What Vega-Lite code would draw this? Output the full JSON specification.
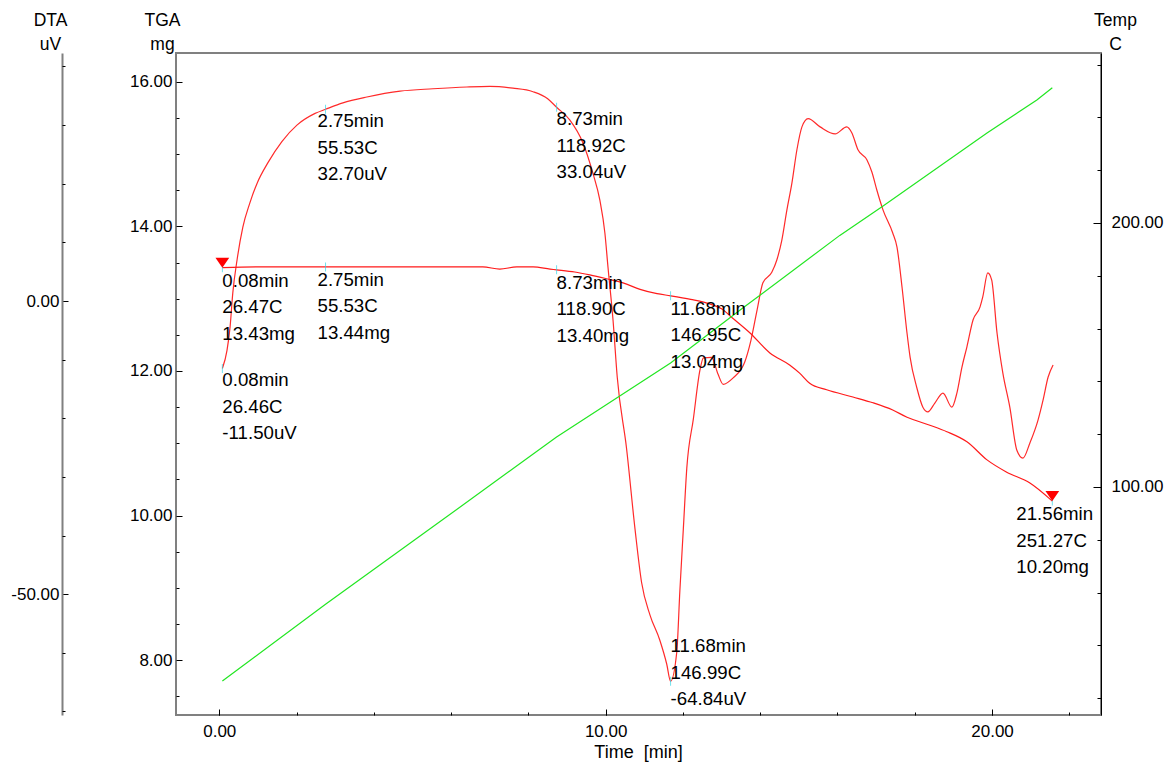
{
  "$schema": "https://vega.github.io/schema/vega-lite/v6.json",
  "width": 925,
  "height": 662,
  "autosize": {"type": "none"},
  "padding": {"left": 176, "top": 53, "right": 69, "bottom": 47},
  "background": "white",
  "config": {
    "font": "Liberation Sans",
    "view": {"stroke": "#808080", "strokeWidth": 2},
    "axis": {
      "labelFont": "Liberation Sans", "labelFontSize": 17, "labelColor": "black",
      "tickColor": "black", "domainColor": "#808080", "grid": false,
      "labelFlush": false, "labelOverlap": false,
      "titleFont": "Liberation Sans", "titleFontSize": 17.5, "titleFontWeight": "normal",
      "titleColor": "black", "titleAngle": 0, "titleBaseline": "alphabetic",
      "titleAlign": "center", "titleLineHeight": 24
    }
  },
  "datasets": {
    "dta": [
      {"t":0.08,"v":-11.5},{"t":0.2,"v":-8.4},{"t":0.28,"v":-4.4},{"t":0.35,"v":1.4},{"t":0.46,"v":7.0},
      {"t":0.61,"v":12.6},{"t":0.79,"v":16.7},{"t":0.98,"v":20.1},{"t":1.26,"v":23.6},{"t":1.62,"v":27.2},
      {"t":2.01,"v":30.0},{"t":2.48,"v":32.0},{"t":2.75,"v":32.7},{"t":3.2,"v":33.8},{"t":3.82,"v":34.8},
      {"t":4.68,"v":35.8},{"t":5.53,"v":36.2},{"t":6.41,"v":36.5},{"t":7.0,"v":36.6},{"t":7.6,"v":36.3},
      {"t":8.12,"v":35.7},{"t":8.5,"v":34.5},{"t":8.73,"v":33.04},{"t":9.07,"v":30.9},{"t":9.41,"v":27.0},
      {"t":9.67,"v":21.8},{"t":9.85,"v":17.2},{"t":9.98,"v":11.6},{"t":10.06,"v":5.8},{"t":10.19,"v":-3.2},
      {"t":10.3,"v":-13.0},{"t":10.54,"v":-25.1},{"t":10.76,"v":-38.9},{"t":10.93,"v":-48.0},{"t":11.15,"v":-53.6},
      {"t":11.4,"v":-57.8},{"t":11.58,"v":-61.9},{"t":11.68,"v":-64.84},{"t":11.84,"v":-59.9},{"t":11.92,"v":-49.5},
      {"t":12.01,"v":-38.9},{"t":12.1,"v":-28.5},{"t":12.27,"v":-20.1},{"t":12.44,"v":-11.8},{"t":12.53,"v":-9.7},
      {"t":12.74,"v":-9.6},{"t":12.91,"v":-12.5},{"t":13.04,"v":-14.2},{"t":13.3,"v":-13.1},{"t":13.6,"v":-10.4},
      {"t":13.76,"v":-6.7},{"t":13.92,"v":-1.5},{"t":14.07,"v":3.1},{"t":14.3,"v":4.9},{"t":14.43,"v":7.0},
      {"t":14.56,"v":10.4},{"t":14.69,"v":15.5},{"t":14.82,"v":20.1},{"t":14.95,"v":25.8},{"t":15.08,"v":29.7},
      {"t":15.24,"v":31.1},{"t":15.55,"v":29.7},{"t":15.94,"v":28.5},{"t":16.24,"v":29.7},{"t":16.37,"v":28.7},
      {"t":16.53,"v":25.8},{"t":16.76,"v":24.1},{"t":16.89,"v":22.0},{"t":17.02,"v":18.9},{"t":17.18,"v":15.5},
      {"t":17.43,"v":11.6},{"t":17.54,"v":9.2},{"t":17.67,"v":2.4},{"t":17.8,"v":-5.5},{"t":17.88,"v":-9.6},
      {"t":18.05,"v":-14.7},{"t":18.21,"v":-18.1},{"t":18.34,"v":-18.9},{"t":18.52,"v":-17.4},{"t":18.73,"v":-15.7},
      {"t":18.96,"v":-18.1},{"t":19.09,"v":-15.7},{"t":19.22,"v":-11.3},{"t":19.35,"v":-7.8},{"t":19.51,"v":-3.2},
      {"t":19.69,"v":-1.0},{"t":19.76,"v":0.7},{"t":19.89,"v":4.8},{"t":19.99,"v":3.6},{"t":20.13,"v":-5.5},
      {"t":20.28,"v":-12.3},{"t":20.46,"v":-18.1},{"t":20.64,"v":-25.4},{"t":20.8,"v":-26.8},{"t":20.98,"v":-24.2},
      {"t":21.19,"v":-20.3},{"t":21.32,"v":-16.9},{"t":21.45,"v":-13.0},{"t":21.58,"v":-10.9}
    ],
    "tga": [
      {"t":0.08,"m":13.43},{"t":1.0,"m":13.44},{"t":2.09,"m":13.44},{"t":2.75,"m":13.44},{"t":4.68,"m":13.44},
      {"t":6.82,"m":13.44},{"t":7.26,"m":13.41},{"t":7.7,"m":13.44},{"t":8.12,"m":13.44},{"t":8.56,"m":13.41},
      {"t":8.73,"m":13.4},{"t":9.2,"m":13.37},{"t":9.59,"m":13.33},{"t":10.0,"m":13.28},{"t":10.45,"m":13.22},
      {"t":10.89,"m":13.13},{"t":11.33,"m":13.07},{"t":11.68,"m":13.04},{"t":12.2,"m":12.99},{"t":12.62,"m":12.94},
      {"t":13.0,"m":12.86},{"t":13.29,"m":12.73},{"t":13.73,"m":12.53},{"t":14.25,"m":12.25},{"t":14.77,"m":12.08},
      {"t":15.02,"m":11.97},{"t":15.28,"m":11.83},{"t":15.72,"m":11.74},{"t":16.4,"m":11.64},{"t":16.92,"m":11.56},
      {"t":17.43,"m":11.46},{"t":17.8,"m":11.36},{"t":18.39,"m":11.25},{"t":18.83,"m":11.16},{"t":19.35,"m":11.02},
      {"t":19.87,"m":10.77},{"t":20.38,"m":10.6},{"t":20.98,"m":10.45},{"t":21.56,"m":10.2}
    ],
    "temp": [
      {"t":0.08,"T":26.47},{"t":2.75,"T":55.53},{"t":5.5,"T":84.6},{"t":8.73,"T":118.92},
      {"t":11.68,"T":146.95},{"t":13.48,"T":167.0},{"t":16.06,"T":195.3},{"t":17.18,"T":206.4},{"t":19.87,"T":234.1},
      {"t":21.16,"T":246.6},{"t":21.56,"T":251.27}
    ],
    "ann": [
      {"series":"TGA","t":0.08,"v":13.43,"label":"0.08min\n26.47C\n13.43mg"},
      {"series":"TGA","t":2.75,"v":13.44,"label":"2.75min\n55.53C\n13.44mg"},
      {"series":"TGA","t":8.73,"v":13.40,"label":"8.73min\n118.90C\n13.40mg"},
      {"series":"TGA","t":11.68,"v":13.04,"label":"11.68min\n146.95C\n13.04mg"},
      {"series":"TGA","t":21.56,"v":10.20,"label":"21.56min\n251.27C\n10.20mg"},
      {"series":"DTA","t":0.08,"v":-11.50,"label":"0.08min\n26.46C\n-11.50uV"},
      {"series":"DTA","t":2.75,"v":32.70,"label":"2.75min\n55.53C\n32.70uV"},
      {"series":"DTA","t":8.73,"v":33.04,"label":"8.73min\n118.92C\n33.04uV"},
      {"series":"DTA","t":11.68,"v":-64.84,"label":"11.68min\n146.99C\n-64.84uV"}
    ]
  },
  "resolve": {"scale": {"x": "independent", "y": "independent"}},
  "layer": [
    {
      "data": {"name": "dta"},
      "mark": {"type": "line", "color": "#ff2a2a", "strokeWidth": 1.2, "interpolate": "monotone"},
      "encoding": {
        "x": {"field": "t", "type": "quantitative", "scale": {"domain": [-1.12, 22.82], "nice": false, "zero": false},
              "axis": {"orient": "bottom", "values": [0, 10, 20], "format": ".2f", "tickSize": -6, "labelPadding": 14,
                       "labelBaseline": "top", "domain": false, "title": "Time \u00a0[min]", "titleFontSize": 18, "titleX": 462, "titleY": 42}},
        "y": {"field": "v", "type": "quantitative", "scale": {"domain": [-70.6, 42.3], "nice": false, "zero": false},
              "axis": {"orient": "left", "offset": 114, "values": [-50, 0], "format": ".2f",
                       "labelExpr": "replace(datum.label, '\u2212', '-')", "tickSize": -6, "labelPadding": 9,
                       "domainColor": "#808080", "domainWidth": 2, "title": ["DTA", "uV"], "titleX": -12, "titleY": -28}}
      }
    },
    {
      "data": {"name": "tga"},
      "mark": {"type": "line", "color": "#ff1a1a", "strokeWidth": 1.2, "interpolate": "monotone"},
      "encoding": {
        "x": {"field": "t", "type": "quantitative", "scale": {"domain": [-1.12, 22.82], "nice": false, "zero": false},
              "axis": {"orient": "bottom", "values": [0, 2, 4, 6, 8, 10, 12, 14, 16, 18, 20, 22], "labels": false, "domain": false, "tickSize": -3, "title": null}},
        "y": {"field": "m", "type": "quantitative", "scale": {"domain": [7.24, 16.4], "nice": false, "zero": false},
              "axis": {"orient": "left", "values": [8, 10, 12, 14, 16], "format": ".2f", "tickSize": -6, "labelPadding": 10,
                       "domain": false, "title": ["TGA", "mg"], "titleX": -14, "titleY": -28}}
      }
    },
    {
      "data": {"name": "temp"},
      "mark": {"type": "line", "color": "#22e622", "strokeWidth": 1.2},
      "encoding": {
        "x": {"field": "t", "type": "quantitative", "scale": {"domain": [-1.12, 22.82], "nice": false, "zero": false}, "axis": null},
        "y": {"field": "T", "type": "quantitative", "scale": {"domain": [13.6, 264.4], "nice": false, "zero": false},
              "axis": {"orient": "right", "values": [100, 200], "format": ".2f", "tickSize": -8, "labelPadding": 18,
                       "domainColor": "black", "domainWidth": 1, "title": ["Temp", "C"], "titleX": 14, "titleY": -28}}
      }
    },
    {
      "data": {"name": "dta"},
      "mark": {"type": "line", "strokeOpacity": 0},
      "encoding": {
        "x": {"field": "t", "type": "quantitative", "scale": {"domain": [-1.12, 22.82], "nice": false, "zero": false}, "axis": null},
        "y": {"field": "v", "type": "quantitative", "scale": {"domain": [-70.6, 42.3], "nice": false, "zero": false},
              "axis": {"orient": "left", "offset": 114, "values": [-70, -60, -40, -30, -20, -10, 10, 20, 30, 40], "labels": false, "domain": false, "tickSize": -3, "title": null}}
      }
    },
    {
      "data": {"name": "tga"},
      "mark": {"type": "line", "strokeOpacity": 0},
      "encoding": {
        "x": {"field": "t", "type": "quantitative", "scale": {"domain": [-1.12, 22.82], "nice": false, "zero": false}, "axis": null},
        "y": {"field": "m", "type": "quantitative", "scale": {"domain": [7.24, 16.4], "nice": false, "zero": false},
              "axis": {"orient": "left", "values": [7.5, 8.5, 9, 9.5, 10.5, 11, 11.5, 12.5, 13, 13.5, 14.5, 15, 15.5], "labels": false, "domain": false, "tickSize": -3, "title": null}}
      }
    },
    {
      "data": {"name": "temp"},
      "mark": {"type": "line", "strokeOpacity": 0},
      "encoding": {
        "x": {"field": "t", "type": "quantitative", "scale": {"domain": [-1.12, 22.82], "nice": false, "zero": false}, "axis": null},
        "y": {"field": "T", "type": "quantitative", "scale": {"domain": [13.6, 264.4], "nice": false, "zero": false},
              "axis": {"orient": "right", "values": [20, 40, 60, 80, 120, 140, 160, 180, 220, 240, 260], "labels": false, "domain": false, "tickSize": -4, "title": null}}
      }
    },
    {
      "data": {"name": "ann"},
      "transform": [{"filter": "datum.series == 'DTA'"}],
      "mark": {"type": "tick", "orient": "vertical", "color": "#33d6e6", "size": 9, "thickness": 1},
      "encoding": {
        "x": {"field": "t", "type": "quantitative", "scale": {"domain": [-1.12, 22.82], "nice": false, "zero": false}, "axis": null},
        "y": {"field": "v", "type": "quantitative", "scale": {"domain": [-70.6, 42.3], "nice": false, "zero": false}, "axis": null}
      }
    },
    {
      "data": {"name": "ann"},
      "transform": [{"filter": "datum.series == 'TGA'"}],
      "mark": {"type": "tick", "orient": "vertical", "color": "#33d6e6", "size": 9, "thickness": 1},
      "encoding": {
        "x": {"field": "t", "type": "quantitative", "scale": {"domain": [-1.12, 22.82], "nice": false, "zero": false}, "axis": null},
        "y": {"field": "v", "type": "quantitative", "scale": {"domain": [7.24, 16.4], "nice": false, "zero": false}, "axis": null}
      }
    },
    {
      "data": {"name": "ann"},
      "transform": [{"filter": "datum.series == 'TGA' && (datum.t < 1 || datum.t > 21)"}],
      "mark": {"type": "point", "shape": "M-1,-1.45L1,-1.45L0,0Z", "filled": true, "color": "#ff0000", "opacity": 1, "size": 190, "strokeWidth": 0},
      "encoding": {
        "x": {"field": "t", "type": "quantitative", "scale": {"domain": [-1.12, 22.82], "nice": false, "zero": false}, "axis": null},
        "y": {"field": "v", "type": "quantitative", "scale": {"domain": [7.24, 16.4], "nice": false, "zero": false}, "axis": null}
      }
    },
    {
      "data": {"name": "ann"},
      "transform": [{"filter": "datum.series == 'DTA'"}],
      "mark": {"type": "text", "align": "left", "baseline": "top", "font": "Liberation Sans", "fontSize": 18.67, "lineHeight": 26.5,
               "lineBreak": "\n", "color": "black",
               "dx": {"expr": "datum.t == 2.75 ? -8 : 0"},
               "dy": {"expr": "datum.v < -60 ? -44 : 3"}},
      "encoding": {
        "x": {"field": "t", "type": "quantitative", "scale": {"domain": [-1.12, 22.82], "nice": false, "zero": false}, "axis": null},
        "y": {"field": "v", "type": "quantitative", "scale": {"domain": [-70.6, 42.3], "nice": false, "zero": false}, "axis": null},
        "text": {"field": "label", "type": "nominal"}
      }
    },
    {
      "data": {"name": "ann"},
      "transform": [{"filter": "datum.series == 'TGA'"}],
      "mark": {"type": "text", "align": "left", "baseline": "top", "font": "Liberation Sans", "fontSize": 18.67, "lineHeight": 26.5,
               "lineBreak": "\n", "color": "black",
               "dx": {"expr": "datum.t > 21 ? -36 : (datum.t == 2.75 ? -8 : 0)"},
               "dy": 4},
      "encoding": {
        "x": {"field": "t", "type": "quantitative", "scale": {"domain": [-1.12, 22.82], "nice": false, "zero": false}, "axis": null},
        "y": {"field": "v", "type": "quantitative", "scale": {"domain": [7.24, 16.4], "nice": false, "zero": false}, "axis": null},
        "text": {"field": "label", "type": "nominal"}
      }
    }
  ]
}
